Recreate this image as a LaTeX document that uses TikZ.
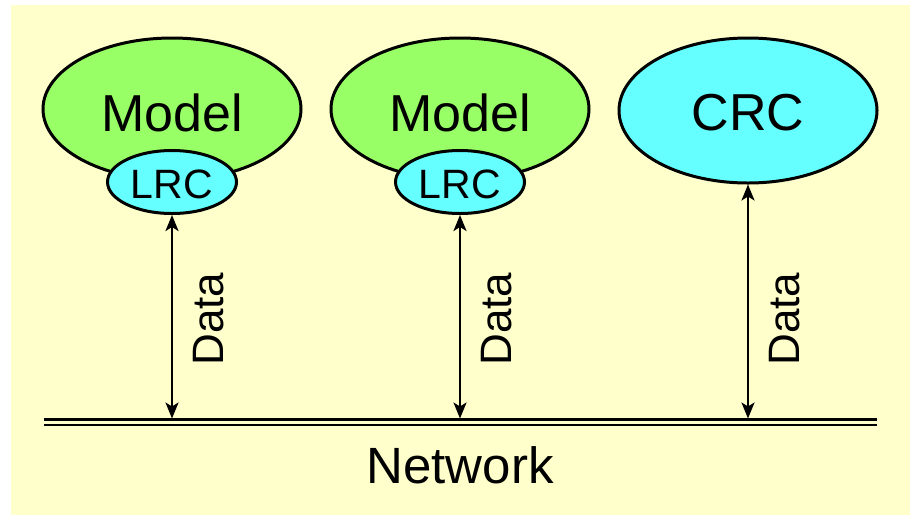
\documentclass[tikz,border=0pt]{standalone}
\usepackage{fontspec}
\setmainfont{Liberation Sans}
\usetikzlibrary{shapes.geometric,arrows.meta}
\definecolor{paper}{HTML}{FFFFCC}
\definecolor{modelgreen}{HTML}{99FF66}
\definecolor{rccyan}{HTML}{66FFFF}
\tikzset{
  modelbox/.style={ellipse, draw=black, line width=3pt, fill=modelgreen,
    inner sep=0pt, minimum width=258pt, minimum height=142pt},
  crcbox/.style={ellipse, draw=black, line width=3pt, fill=rccyan,
    inner sep=0pt, minimum width=258pt, minimum height=145pt},
  lrcbox/.style={ellipse, draw=black, line width=3pt, fill=rccyan,
    inner sep=0pt, minimum width=129pt, minimum height=63pt},
  bigtxt/.style={font=\fontsize{52}{52}\selectfont, inner sep=0pt, anchor=base},
  lrctxt/.style={font=\fontsize{41}{41}\selectfont, inner sep=0pt, anchor=base},
  datatxt/.style={font=\fontsize{44}{44}\selectfont, inner sep=0pt, anchor=base, rotate=90},
  dataarrow/.style={line width=2.5pt,
    {Stealth[length=16pt,width=13pt,inset=4pt]}-{Stealth[length=16pt,width=13pt,inset=4pt]}},
  netline/.style={line width=2.5pt}
}
\begin{document}
\begin{tikzpicture}[x=1pt,y=-1pt]
  % page and pale yellow panel
  \fill[white] (0,0) rectangle (910,515);
  \useasboundingbox (0,0) rectangle (910,515);
  \fill[paper] (11,5) rectangle (910,515);

  % hosts
  \node[modelbox] (model1) at (172,109) {};
  \node[bigtxt] (model1txt) at (172,131) {Model};
  \node[lrcbox] (lrc1) at (172,182) {};
  \node[lrctxt] (lrc1txt) at (172,198) {LRC};

  \node[modelbox] (model2) at (460,109) {};
  \node[bigtxt] (model2txt) at (460,131) {Model};
  \node[lrcbox] (lrc2) at (460,182) {};
  \node[lrctxt] (lrc2txt) at (460,198) {LRC};

  \node[crcbox] (crc) at (748,110.5) {};
  \node[bigtxt] (crctxt) at (748,130) {CRC};

  % network bus
  \coordinate (busL) at (44,419.5);
  \coordinate (busR) at (877,419.5);
  \draw[netline] (busL) -- (busR);
  \draw[netline] ([yshift=-5.5pt]busL) -- ([yshift=-5.5pt]busR);
  \node[bigtxt, font=\fontsize{51}{51}\selectfont] (net) at (460,483) {Network};

  % data links
  \coordinate (tap1) at (172,418.5);
  \coordinate (tap2) at (460,418.5);
  \coordinate (tap3) at (748,418.5);
  \draw[dataarrow] (lrc1.south) -- (tap1);
  \draw[dataarrow] (lrc2.south) -- (tap2);
  \draw[dataarrow] (crc.south) -- (tap3);
  \node[datatxt] (d1) at (223,319) {Data};
  \node[datatxt] (d2) at (511,319) {Data};
  \node[datatxt] (d3) at (799,319) {Data};
\end{tikzpicture}
\end{document}
